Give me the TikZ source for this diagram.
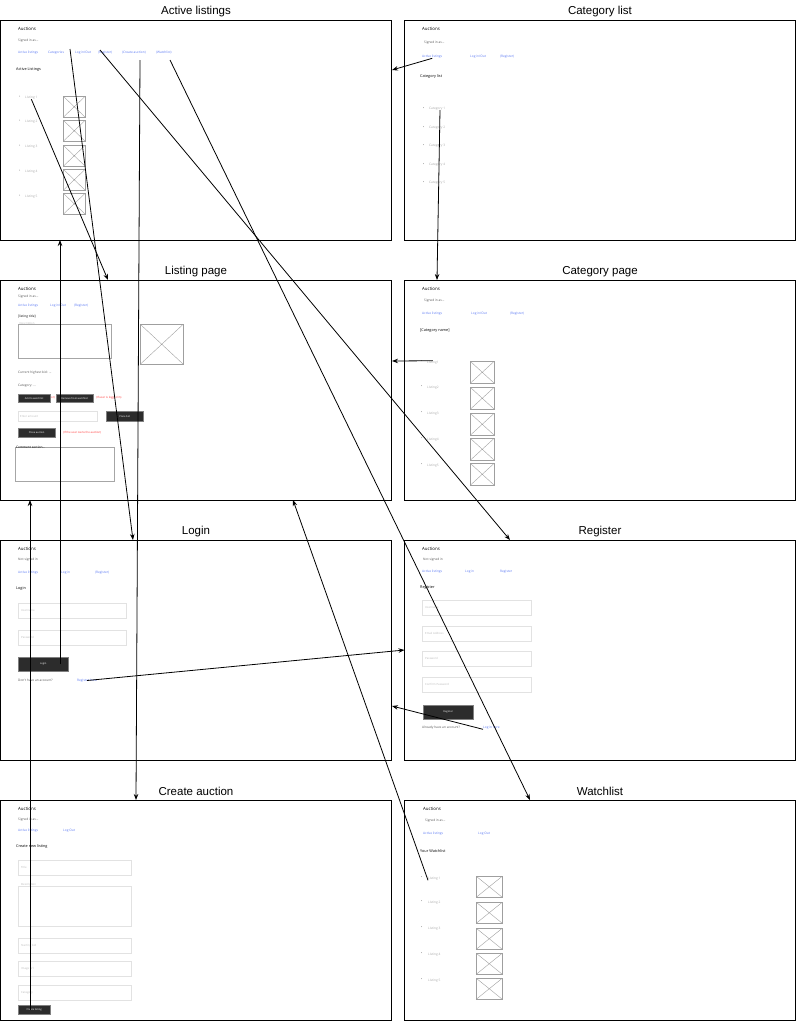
\documentclass[tikz,border=0pt]{standalone}
\usepackage{fontspec}
\setmainfont{Liberation Sans}
\newfontfamily\uifont{Open Sans}
\usetikzlibrary{positioning,arrows.meta}

\definecolor{linkblue}{HTML}{5A78F2}
\definecolor{hintgray}{HTML}{A8A8A8}
\definecolor{fieldgray}{HTML}{E2E2E2}
\definecolor{textgray}{HTML}{555555}
\definecolor{btndark}{HTML}{2C2C2C}
\definecolor{warnred}{HTML}{FF3030}

\tikzset{
  panel/.style={draw, line width=0.9pt, anchor=north west, inner sep=0pt, outer sep=0pt,
    minimum width=391pt, minimum height=220pt},
  title/.style={font=\fontsize{11.5}{13}\selectfont},
  brand/.style={anchor=west, inner sep=0pt, font=\uifont\fontsize{4.4}{5}\selectfont},
  small/.style={anchor=west, inner sep=0pt, text=textgray, font=\uifont\fontsize{3.2}{3.7}\selectfont},
  link/.style={small, text=linkblue},
  head/.style={anchor=west, inner sep=0pt, font=\uifont\fontsize{3.8}{4.4}\selectfont},
  item/.style={small, text=hintgray},
  hint/.style={small, text=hintgray!80, font=\uifont\fontsize{2.8}{3.2}\selectfont},
  warn/.style={small, text=warnred, font=\uifont\fontsize{2.8}{3.2}\selectfont},
  field/.style 2 args={draw=fieldgray, line width=0.5pt, anchor=north west, inner sep=0pt,
    minimum width=#1, minimum height=#2},
  btn/.style 2 args={fill=btndark, draw=gray, line width=0.4pt, anchor=north west, inner sep=0pt,
    minimum width=#1, minimum height=#2, text=white, font=\uifont\fontsize{2.5}{3}\selectfont},
  imgbox/.style 2 args={draw=gray!75, line width=0.5pt, anchor=north west, inner sep=0pt,
    minimum width=#1, minimum height=#2,
    path picture={\draw[gray!75, line width=0.4pt]
      (path picture bounding box.north west) -- (path picture bounding box.south east)
      (path picture bounding box.north east) -- (path picture bounding box.south west);}},
  flow/.style={-{Stealth[length=6pt,width=4.5pt]}, line width=0.8pt}
}

\begin{document}
\begin{tikzpicture}[x=1pt,y=-1pt]
  \useasboundingbox (0,0) rectangle (797,1021);

  % Panels and titles
  \node[panel] (active) at (0,20) {};
  \node[panel] (catlist) at (404.5,20) {};
  \node[panel] (listing) at (0,280) {};
  \node[panel] (catpage) at (404.5,280) {};
  \node[panel] (login) at (0,540) {};
  \node[panel] (register) at (404.5,540) {};
  \node[panel] (create) at (0,800) {};
  \node[panel] (watch) at (404.5,800) {};
  \node[title] (t-active) at (196,11.5) {Active listings};
  \node[title] (t-catlist) at (600,11.5) {Category list};
  \node[title] (t-listing) at (196,271.5) {Listing page};
  \node[title] (t-catpage) at (600,271.5) {Category page};
  \node[title] (t-login) at (196,531.5) {Login};
  \node[title] (t-register) at (600,531.5) {Register};
  \node[title] (t-create) at (196,791.5) {Create auction};
  \node[title] (t-watch) at (600,791.5) {Watchlist};

  % Active listings
  \node[brand] (al-brand) at (18,28.5) {Auctions};
  \node[small] (al-sign) at (18,40.5) {Signed in as...};
  \node[link] (al-act) at (18,52.5) {Active listings};
  \node[link] (al-cat) at (48,52.5) {Categories};
  \node[link] (al-log) at (75,52.5) {Log in/Out};
  \node[link] (al-reg) at (98,52.5) {(Register)};
  \node[link] (al-new) at (122,52.5) {(Create auction)};
  \node[link] (al-watch) at (156,52.5) {(Watchlist)};
  \node[head] (al-head) at (16,69.5) {Active Listings};
  \foreach \y [count=\i] in {97.5,121.5,146.5,171.5,196.5} {
    \fill[hintgray] (19.5,\y-1.5) circle (0.5pt);
    \node[item] (al-l\i) at (25,\y) {Listing \i};
  }
  \foreach \y in {96,120,145,169,193}
    \node[imgbox={22pt}{21pt}] at (63,\y) {};

  % Listing page
  \node[brand] (lp-brand) at (18,288.5) {Auctions};
  \node[small] (lp-sign) at (18,296.5) {Signed in as...};
  \node[link] (lp-act) at (18,305.5) {Active listings};
  \node[link] (lp-log) at (50,305.5) {Log in/Out};
  \node[link] (lp-reg) at (74,305.5) {(Register)};
  \node[small, text=black] (lp-title) at (18,316.5) {[listing title]};
  \node[field={93pt}{34pt}, draw=gray!70] (lp-desc) at (18,324) {};
  \node[hint, anchor=north west] at ([shift={(1.5,-1.5)}]lp-desc.north west) {Description};
  \node[imgbox={43pt}{40pt}] (lp-img) at (140,324) {};
  \node[small] (lp-bid) at (18,372.5) {Current highest bid: ...};
  \node[small] (lp-cat) at (18,385.5) {Category: ...};
  \node[warn, anchor=east] at (55,398) {(or)};
  \node[btn={32pt}{8pt}] (lp-add) at (18,394) {Add to watchlist};
  \node[btn={37pt}{8pt}] (lp-rem) at (56,394) {Remove from watchlist};
  \node[warn] at (96,398) {(If user is logged in)};
  \node[field={79pt}{10pt}] (lp-amt) at (18,411) {};
  \node[hint, right=2pt of lp-amt.west] {Enter amount};
  \node[btn={37pt}{10pt}] (lp-place) at (106,411) {Place bid};
  \node[btn={37pt}{9pt}] (lp-close) at (18,428) {Close auction};
  \node[warn] at (63,433) {(If the user owns the auction)};
  \node[field={99pt}{34pt}, draw=gray!70] (lp-com) at (15,447) {};
  \node[small, text=black, anchor=north west] at ([shift={(1,-1.5)}]lp-com.north west) {Comment section...};

  % Login
  \node[brand] (lg-brand) at (18,548.5) {Auctions};
  \node[small] (lg-sign) at (18,559.5) {Not signed in};
  \node[link] (lg-act) at (18,572.5) {Active listings};
  \node[link] (lg-log) at (61,572.5) {Log in};
  \node[link] (lg-reg2) at (95,572.5) {(Register)};
  \node[head] (lg-head) at (16,588.5) {Login};
  \node[field={108pt}{15pt}] (lg-user) at (18,603) {};
  \node[hint, right=3pt of lg-user.west] {Username};
  \node[field={108pt}{15pt}] (lg-pass) at (18,630) {};
  \node[hint, right=3pt of lg-pass.west] {Password};
  \node[btn={50pt}{14pt}] (lg-btn) at (18,657) {Login};
  \node[small] (lg-q) at (18,680.5) {Don't have an account?};
  \node[link] (lg-reg) at (77,680.5) {Register here};

  % Create auction
  \node[brand] (ca-brand) at (18,808.5) {Auctions};
  \node[small] (ca-sign) at (18,819.5) {Signed in as...};
  \node[link] (ca-act) at (18,830.5) {Active listings};
  \node[link] (ca-log) at (63,830.5) {Log Out};
  \node[head] (ca-head) at (16,846.5) {Create new listing};
  \node[field={113pt}{15pt}] (ca-title) at (18,860) {};
  \node[hint, right=3pt of ca-title.west] {Title};
  \node[field={113pt}{40pt}] (ca-desc) at (18,886) {};
  \node[hint, anchor=north west] at ([shift={(3,-3)}]ca-desc.north west) {Description};
  \node[field={113pt}{15pt}] (ca-bid) at (18,938) {};
  \node[hint, right=3pt of ca-bid.west] {Starting bid};
  \node[field={113pt}{15pt}] (ca-img) at (18,961) {};
  \node[hint, right=3pt of ca-img.west] {Image url};
  \node[field={113pt}{15pt}] (ca-cat) at (18,985) {};
  \node[hint, right=3pt of ca-cat.west] {Category};
  \node[btn={32pt}{9pt}] (ca-btn) at (18,1005) {Create listing};

  % Category list
  \node[brand] (cl-brand) at (422,28.5) {Auctions};
  \node[small] (cl-sign) at (424,42.5) {Signed in as...};
  \node[link] (cl-act) at (422,56.5) {Active listings};
  \node[link] (cl-log) at (470,56.5) {Log in/Out};
  \node[link] (cl-reg) at (500,56.5) {(Register)};
  \node[head] (cl-head) at (420,76.5) {Category list};
  \foreach \y [count=\i] in {108.5,127.5,145.5,164.5,182.5} {
    \fill[hintgray] (423.5,\y-1) circle (0.5pt);
    \node[item] (cl-c\i) at (429,\y) {Category \i};
  }

  % Category page
  \node[brand] (cp-brand) at (422,288.5) {Auctions};
  \node[small] (cp-sign) at (424,300.5) {Signed in as...};
  \node[link] (cp-act) at (422,313.5) {Active listings};
  \node[link] (cp-log) at (471,313.5) {Log in/Out};
  \node[link] (cp-reg) at (510,313.5) {(Register)};
  \node[head] (cp-head) at (420,330.5) {[Category name]};
  \foreach \y [count=\i] in {362.5,387.5,413.5,439.5,465.5} {
    \fill[hintgray] (421.5,\y-2) circle (0.5pt);
    \node[item] (cp-l\i) at (427,\y) {Listing\i};
  }
  \foreach \y in {361,387,413,438,463}
    \node[imgbox={24pt}{22pt}] at (470,\y) {};

  % Register
  \node[brand] (rg-brand) at (422,548.5) {Auctions};
  \node[small] (rg-sign) at (423,559.5) {Not signed in};
  \node[link] (rg-act) at (422,571.5) {Active listings};
  \node[link] (rg-log) at (465,571.5) {Log in};
  \node[link] (rg-reg) at (500,571.5) {Register};
  \node[head] (rg-head) at (420,587.5) {Register};
  \foreach \y/\t/\n in {600/Username/u,626/Email Address/e,651/Password/p,677/Confirm Password/c} {
    \node[field={109pt}{15pt}] (rg-\n) at (422,\y) {};
    \node[hint, right=3pt of rg-\n.west] {\t};
  }
  \node[btn={50pt}{14pt}] (rg-btn) at (423,705) {Register};
  \node[small] (rg-q) at (422,727.5) {Already have an account?};
  \node[link] (rg-login) at (483,727.5) {Log in here};

  % Watchlist
  \node[brand] (wl-brand) at (423,808.5) {Auctions};
  \node[small] (wl-sign) at (425,820.5) {Signed in as...};
  \node[link] (wl-act) at (423,833.5) {Active listings};
  \node[link] (wl-log) at (478,833.5) {Log Out};
  \node[head] (wl-head) at (420,851.5) {Your Watchlist};
  \foreach \y [count=\i] in {878.5,902.5,928.5,954.5,980.5} {
    \fill[hintgray] (421.5,\y-2) circle (0.5pt);
    \node[item] (wl-l\i) at (428,\y) {Listing \i};
  }
  \foreach \y in {876,902,928,953,978}
    \node[imgbox={26pt}{21pt}] at (476,\y) {};

  % Arrow ends
  \coordinate (cat-out) at (70,49);
  \coordinate (reg-out) at (100,50);
  \coordinate (new-out) at (140,60);
  \coordinate (watch-out) at (170,60);
  \coordinate (cat1-out) at (440,110);
  \coordinate (login-in) at (133,540);
  \coordinate (listing-in) at (108,280);
  \coordinate (register-in) at (510,540);
  \coordinate (create-in) at (136,800);
  \coordinate (watch-in) at (530,800);
  \coordinate (active-in) at (392,70);
  \coordinate (catpage-in) at (437,280);
  \coordinate (listing-in2) at (392,361);
  \coordinate (active-in2) at (60,240);
  \coordinate (register-in2) at (404.5,650);
  \coordinate (login-in2) at (392,706);
  \coordinate (listing-in3) at (30,500);
  \coordinate (listing-in4) at (293,500);

  % Navigation
  \draw[flow] (cat-out) -- (login-in);
  \draw[flow] (al-l1.south) -- (listing-in);
  \draw[flow] (reg-out) -- (register-in);
  \draw[flow] (new-out) -- (create-in);
  \draw[flow] (watch-out) -- (watch-in);
  \draw[flow] (cl-act.south) -- (active-in);
  \draw[flow] (cat1-out) -- (catpage-in);
  \draw[flow] (cp-l1.north) -- (listing-in2);
  \draw[flow] (lg-btn.center -| active-in2) -- (active-in2);
  \draw[flow] (lg-reg.center) -- (register-in2);
  \draw[flow] (rg-login.south west) -- (login-in2);
  \draw[flow] (ca-btn.center -| listing-in3) -- (listing-in3);
  \draw[flow] (wl-l1.south west) -- (listing-in4);
\end{tikzpicture}
\end{document}
